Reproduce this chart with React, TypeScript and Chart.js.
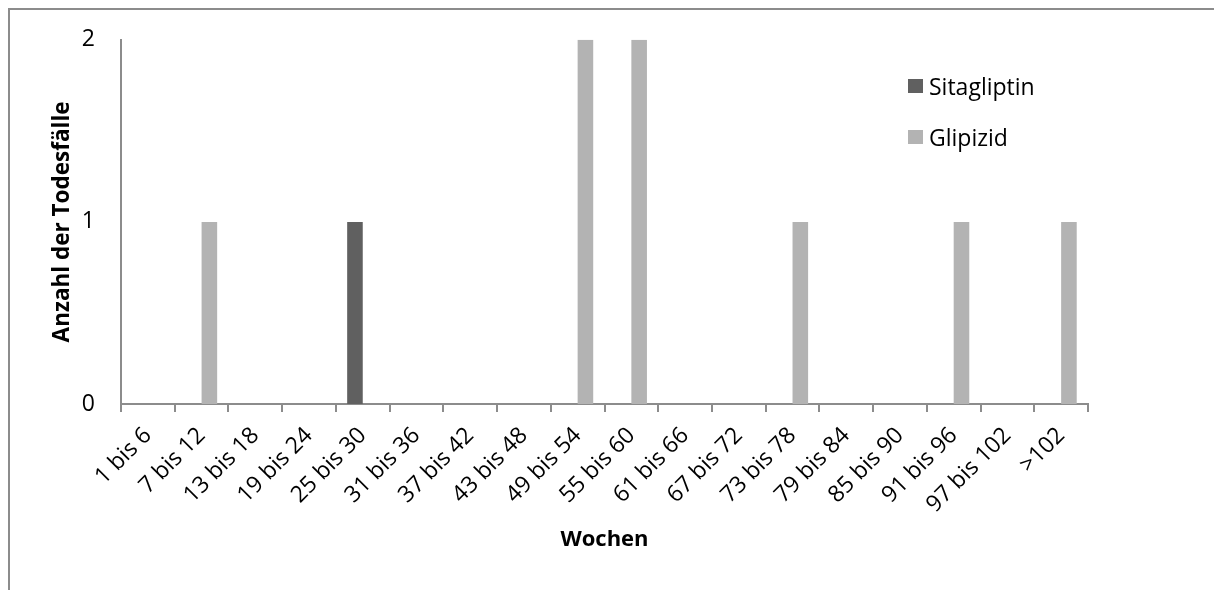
import React, { useEffect, useRef } from "react";
import { Chart, registerables } from "chart.js";

Chart.register(...registerables);

const categories = [
  "1 bis 6", "7 bis 12", "13 bis 18", "19 bis 24", "25 bis 30", "31 bis 36",
  "37 bis 42", "43 bis 48", "49 bis 54", "55 bis 60", "61 bis 66", "67 bis 72",
  "73 bis 78", "79 bis 84", "85 bis 90", "91 bis 96", "97 bis 102", ">102",
];
const sitagliptin = [0, 0, 0, 0, 1, 0, 0, 0, 0, 0, 0, 0, 0, 0, 0, 0, 0, 0];
const glipizid = [0, 1, 0, 0, 0, 0, 0, 0, 2, 2, 0, 0, 1, 0, 0, 1, 0, 1];
const yTicks = [0, 1, 2];
const seriesNames = ["Sitagliptin", "Glipizid"];
const seriesColors = ["#606060", "#b3b3b3"];

const FONT = "'Open Sans', sans-serif";
const AXIS = "#8c8c8c";

export default function App() {
  const ref = useRef<HTMLCanvasElement | null>(null);

  useEffect(() => {
    if (!ref.current) return;
    const chart = new Chart(ref.current, {
      type: "bar",
      data: {
        labels: categories,
        datasets: [
          { label: seriesNames[0], data: sitagliptin, backgroundColor: seriesColors[0], borderWidth: 0 },
          { label: seriesNames[1], data: glipizid, backgroundColor: seriesColors[1], borderWidth: 0 },
        ],
      },
      options: {
        animation: false,
        responsive: false,
        maintainAspectRatio: false,
        devicePixelRatio: 1,
        categoryPercentage: 0.58,
        barPercentage: 1,
        layout: { padding: { left: 0, top: 39, right: 126, bottom: 0 } },
        plugins: { legend: { display: false }, tooltip: { enabled: false } },
        scales: {
          x: {
            grid: {
              display: true,
              drawOnChartArea: false,
              drawTicks: true,
              tickLength: 8,
              color: AXIS,
              lineWidth: 2,
              offset: true,
            },
            border: { display: true, color: AXIS, width: 2 },
            ticks: {
              maxRotation: 45,
              minRotation: 45,
              autoSkip: false,
              color: "#000",
              padding: 10,
              font: { family: FONT, size: 23 },
            },
            title: {
              display: true,
              text: "Wochen",
              color: "#000",
              font: { family: FONT, size: 22, weight: "bold" },
              padding: { top: 0, bottom: 37 },
            },
            afterFit: (s: any) => { s.height = 186; },
          },
          y: {
            min: 0,
            max: 2,
            afterBuildTicks: (s: any) => { s.ticks = yTicks.map((v) => ({ value: v })); },
            grid: { display: false, drawTicks: false },
            border: { display: true, color: AXIS, width: 2 },
            ticks: {
              color: "#000",
              padding: 26,
              font: { family: FONT, size: 23 },
            },
            title: {
              display: true,
              text: "Anzahl der Todesfälle",
              color: "#000",
              font: { family: FONT, size: 22.5, weight: "bold" },
              padding: { top: 49, bottom: 0 },
            },
            afterFit: (s: any) => { s.width = 121; },
          },
        },
      },
    });
    return () => chart.destroy();
  }, []);

  const legendItem = (i: number, top: number) => (
    <div key={i} style={{ position: "absolute", left: 908, top, height: 20, display: "flex", alignItems: "center" }}>
      <div style={{ width: 15, height: 14, background: seriesColors[i], marginRight: 6 }} />
      <span style={{ fontFamily: FONT, fontSize: 23, color: "#000", lineHeight: "20px" }}>{seriesNames[i]}</span>
    </div>
  );

  return (
    <div>
      <div
        style={{
          position: "fixed",
          left: 8,
          top: 8,
          width: 1206,
          height: 582,
          borderTop: `2px solid ${AXIS}`,
          borderLeft: `2px solid ${AXIS}`,
          boxSizing: "border-box",
        }}
      />
      <canvas
        ref={ref}
        width={1214}
        height={590}
        style={{ position: "fixed", left: 0, top: 0, width: 1214, height: 590 }}
      />
      {legendItem(0, 76)}
      {legendItem(1, 127)}
    </div>
  );
}
